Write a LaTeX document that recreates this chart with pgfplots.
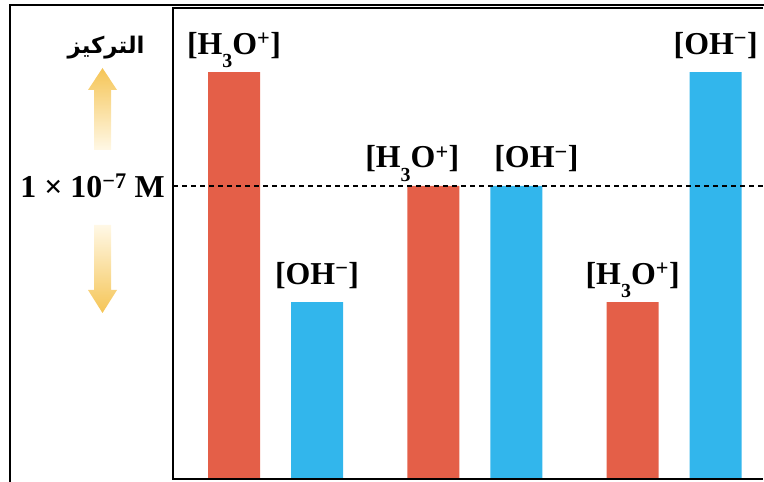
\documentclass[border=0pt]{standalone}
\usepackage{pgfplots}
\pgfplotsset{compat=1.18}
\usepackage{pgfplotstable}
\usepackage{fontspec}
\setmainfont{Liberation Serif}
\newfontfamily\arabicfont[Script=Arabic]{DejaVu Sans}
\TeXXeTstate=1

\definecolor{hred}{HTML}{E45F48}
\definecolor{ohblue}{HTML}{32B6EC}
\definecolor{arrowgold}{HTML}{F5C556}
\definecolor{arrowpale}{HTML}{FFF8E6}

% concentration relative to 1e-7 M (dashed line = 1)
\pgfplotstableread{
x   y     dx
1   1.389 0
3.4 1.0   -21
5.8 0.604 0
}\hydronium
\pgfplotstableread{
x   y     dx
2   0.604 0
4.4 1.0   20
6.8 1.389 0
}\hydroxide

\newcommand{\lblfont}{\fontsize{32}{36}\selectfont\bfseries}
\newcommand{\lowsub}[1]{\raisebox{-0.42em}{\fontsize{20}{20}\selectfont #1}}

\begin{document}
\begin{tikzpicture}
\useasboundingbox (0,0) rectangle (764bp,482bp);

% outer frame
\draw[line width=1.5bp] (10bp,0bp) -- (10bp,477bp) -- (764bp,477bp);

% arabic label and arrows
\node[font=\arabicfont\fontsize{23}{27}\selectfont\bfseries] at (106bp,434bp) {\beginR التركيز\endR};
\shade[top color=arrowgold, bottom color=arrowpale, draw=none]
  (94bp,332bp) -- (94bp,392bp) -- (88bp,392bp) -- (102.5bp,414bp)
  -- (117bp,392bp) -- (111bp,392bp) -- (111bp,332bp) -- cycle;
\shade[top color=arrowpale, bottom color=arrowgold, draw=none]
  (94bp,257bp) -- (94bp,192bp) -- (88bp,192bp) -- (102.5bp,169bp)
  -- (117bp,192bp) -- (111bp,192bp) -- (111bp,257bp) -- cycle;

\begin{axis}[
    at={(173bp,3bp)}, anchor=south west,
    scale only axis,
    width=590bp, height=471bp,
    xmin=0.265, xmax=7.37,
    ymin=0, ymax=1.6075,
    axis line style={draw=none},
    xtick=\empty,
    ytick={1},
    yticklabels={1 × 10\textsuperscript{−7} M},
    major tick length=0pt,
    yticklabel style={font=\lblfont, anchor=east, inner sep=0pt, xshift=-8bp},
    clip=false,
]
\addplot[ybar, bar width=52bp, bar shift=0pt, fill=hred, draw=none,
    visualization depends on={\thisrow{dx} \as \dx},
    nodes near coords={[H\lowsub{3}O\textsuperscript{+}]},
    nodes near coords style={anchor=base, yshift=18bp, xshift=\dx bp, font=\lblfont, text=black},
    ] table[x=x, y=y] {\hydronium};
\addplot[ybar, bar width=52bp, bar shift=0pt, fill=ohblue, draw=none,
    visualization depends on={\thisrow{dx} \as \dx},
    nodes near coords={[OH\textsuperscript{−}]},
    nodes near coords style={anchor=base, yshift=18bp, xshift=\dx bp, font=\lblfont, text=black},
    ] table[x=x, y=y] {\hydroxide};
\addplot[black, line width=1.6bp, dash pattern=on 5bp off 4bp] coordinates {(0.265,1) (7.37,1)};
\draw[line width=1.6bp] (rel axis cs:1,1) -- (rel axis cs:0,1) -- (rel axis cs:0,0) -- (rel axis cs:1,0);
\end{axis}
\end{tikzpicture}
\end{document}
